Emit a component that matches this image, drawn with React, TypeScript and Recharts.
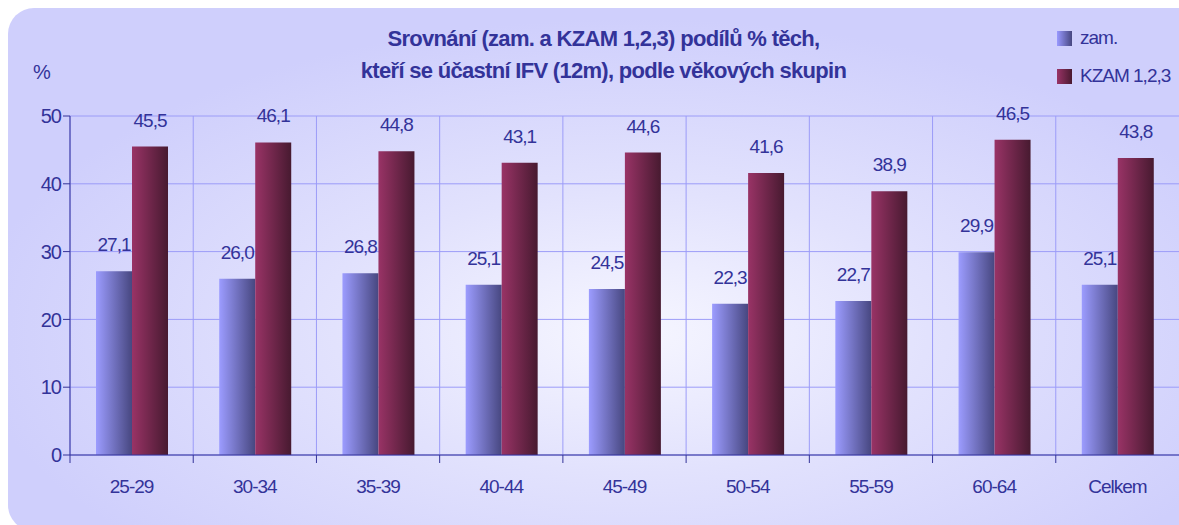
import { BarChart, Bar, XAxis, YAxis, CartesianGrid, LabelList } from 'recharts';

const categories = ['25-29', '30-34', '35-39', '40-44', '45-49', '50-54', '55-59', '60-64', 'Celkem'];
const zamValues = [27.1, 26.0, 26.8, 25.1, 24.5, 22.3, 22.7, 29.9, 25.1];
const kzamValues = [45.5, 46.1, 44.8, 43.1, 44.6, 41.6, 38.9, 46.5, 43.8];
const yTicks = [0, 10, 20, 30, 40, 50];

const data = categories.map((name, i) => ({ name, zam: zamValues[i], kzam: kzamValues[i] }));

const TEXT = '#333399';
const FONT = '"Liberation Sans", Arial, sans-serif';

// hodnoty s desetinnou čárkou
const fmt = (v: any) => Number(v).toFixed(1).replace('.', ',');

const XTick = (props: any) => {
  const { x, y, payload, step } = props;
  return (
    <g>
      <line x1={x - step / 2} y1={y - 8} x2={x - step / 2} y2={y} stroke={TEXT} strokeWidth={1} />
      <text x={x} y={y + 30} textAnchor="middle" fill={TEXT} fontSize={19} fontFamily={FONT} letterSpacing={-1}>
        {payload.value}
      </text>
    </g>
  );
};

export default function App() {
  const W = 1179;
  const H = 525;
  const step = (W - 70) / categories.length;

  return (
    <div style={{ position: 'fixed', left: 0, top: 0, width: W, height: H, background: '#fff', overflow: 'hidden' }}>
      <div
        style={{
          position: 'absolute', left: 8, top: 8, width: W + 20, height: H - 2,
          borderRadius: 26,
          background: 'radial-gradient(ellipse 55% 60% at 52% 62%, #f6f6ff 0%, #e2e2fd 45%, #cfcffc 100%)',
        }}
      />
      <div style={{ position: 'absolute', left: 0, top: 23, width: 1207, textAlign: 'center', color: TEXT, fontFamily: FONT, fontWeight: 'bold', fontSize: 22, lineHeight: '32px', letterSpacing: -0.7 }}>
        Srovnání (zam. a KZAM 1,2,3) podílů % těch,<br />kteří se účastní IFV (12m), podle věkových skupin
      </div>
      <div style={{ position: 'absolute', left: 33, top: 61, color: TEXT, fontFamily: FONT, fontSize: 20 }}>%</div>
      <div style={{ position: 'absolute', left: 1057, top: 30, color: TEXT, fontFamily: FONT, fontSize: 19, letterSpacing: -1 }}>
        <div style={{ display: 'flex', alignItems: 'center', height: 16 }}>
          <span style={{ width: 15, height: 15, display: 'inline-block', background: 'linear-gradient(to right, #9999ff, #474780)', marginRight: 8 }} />
          zam.
        </div>
        <div style={{ display: 'flex', alignItems: 'center', height: 16, marginTop: 22 }}>
          <span style={{ width: 15, height: 15, display: 'inline-block', background: 'linear-gradient(to right, #993366, #4a1a30)', marginRight: 8 }} />
          KZAM 1,2,3
        </div>
      </div>
      <div style={{ position: 'absolute', left: 0, top: 0 }}>
        <BarChart width={W} height={H} data={data} margin={{ top: 116, right: 0, left: 10, bottom: 30 }} barGap={0} barSize={36}>
          <defs>
            <linearGradient id="gZam" x1="0" y1="0" x2="1" y2="0">
              <stop offset="0%" stopColor="#9c9cff" />
              <stop offset="100%" stopColor="#474780" />
            </linearGradient>
            <linearGradient id="gKzam" x1="0" y1="0" x2="1" y2="0">
              <stop offset="0%" stopColor="#993366" />
              <stop offset="100%" stopColor="#471a30" />
            </linearGradient>
          </defs>
          <CartesianGrid
            stroke="#9c9cf8"
            strokeWidth={1}
            verticalCoordinatesGenerator={({ offset }: any) =>
              categories.map((_, i) => offset.left + (i * offset.width) / categories.length)
            }
          />
          <XAxis
            dataKey="name"
            stroke={TEXT}
            tickLine={false}
            height={40}
            interval={0}
            tick={(p: any) => <XTick {...p} step={step} />}
          />
          <YAxis
            domain={[0, 50]}
            ticks={yTicks}
            width={60}
            stroke={TEXT}
            tickSize={7}
            tick={{ fill: TEXT, fontSize: 20, fontFamily: FONT, letterSpacing: -1 }}
          />
          <Bar dataKey="zam" fill="url(#gZam)" isAnimationActive={false}>
            <LabelList dataKey="zam" position="top" offset={20} formatter={fmt} fill={TEXT} fontSize={19} fontFamily={FONT} letterSpacing={-1} />
          </Bar>
          <Bar dataKey="kzam" fill="url(#gKzam)" isAnimationActive={false}>
            <LabelList dataKey="kzam" position="top" offset={20} formatter={fmt} fill={TEXT} fontSize={19} fontFamily={FONT} letterSpacing={-1} />
          </Bar>
        </BarChart>
      </div>
    </div>
  );
}
